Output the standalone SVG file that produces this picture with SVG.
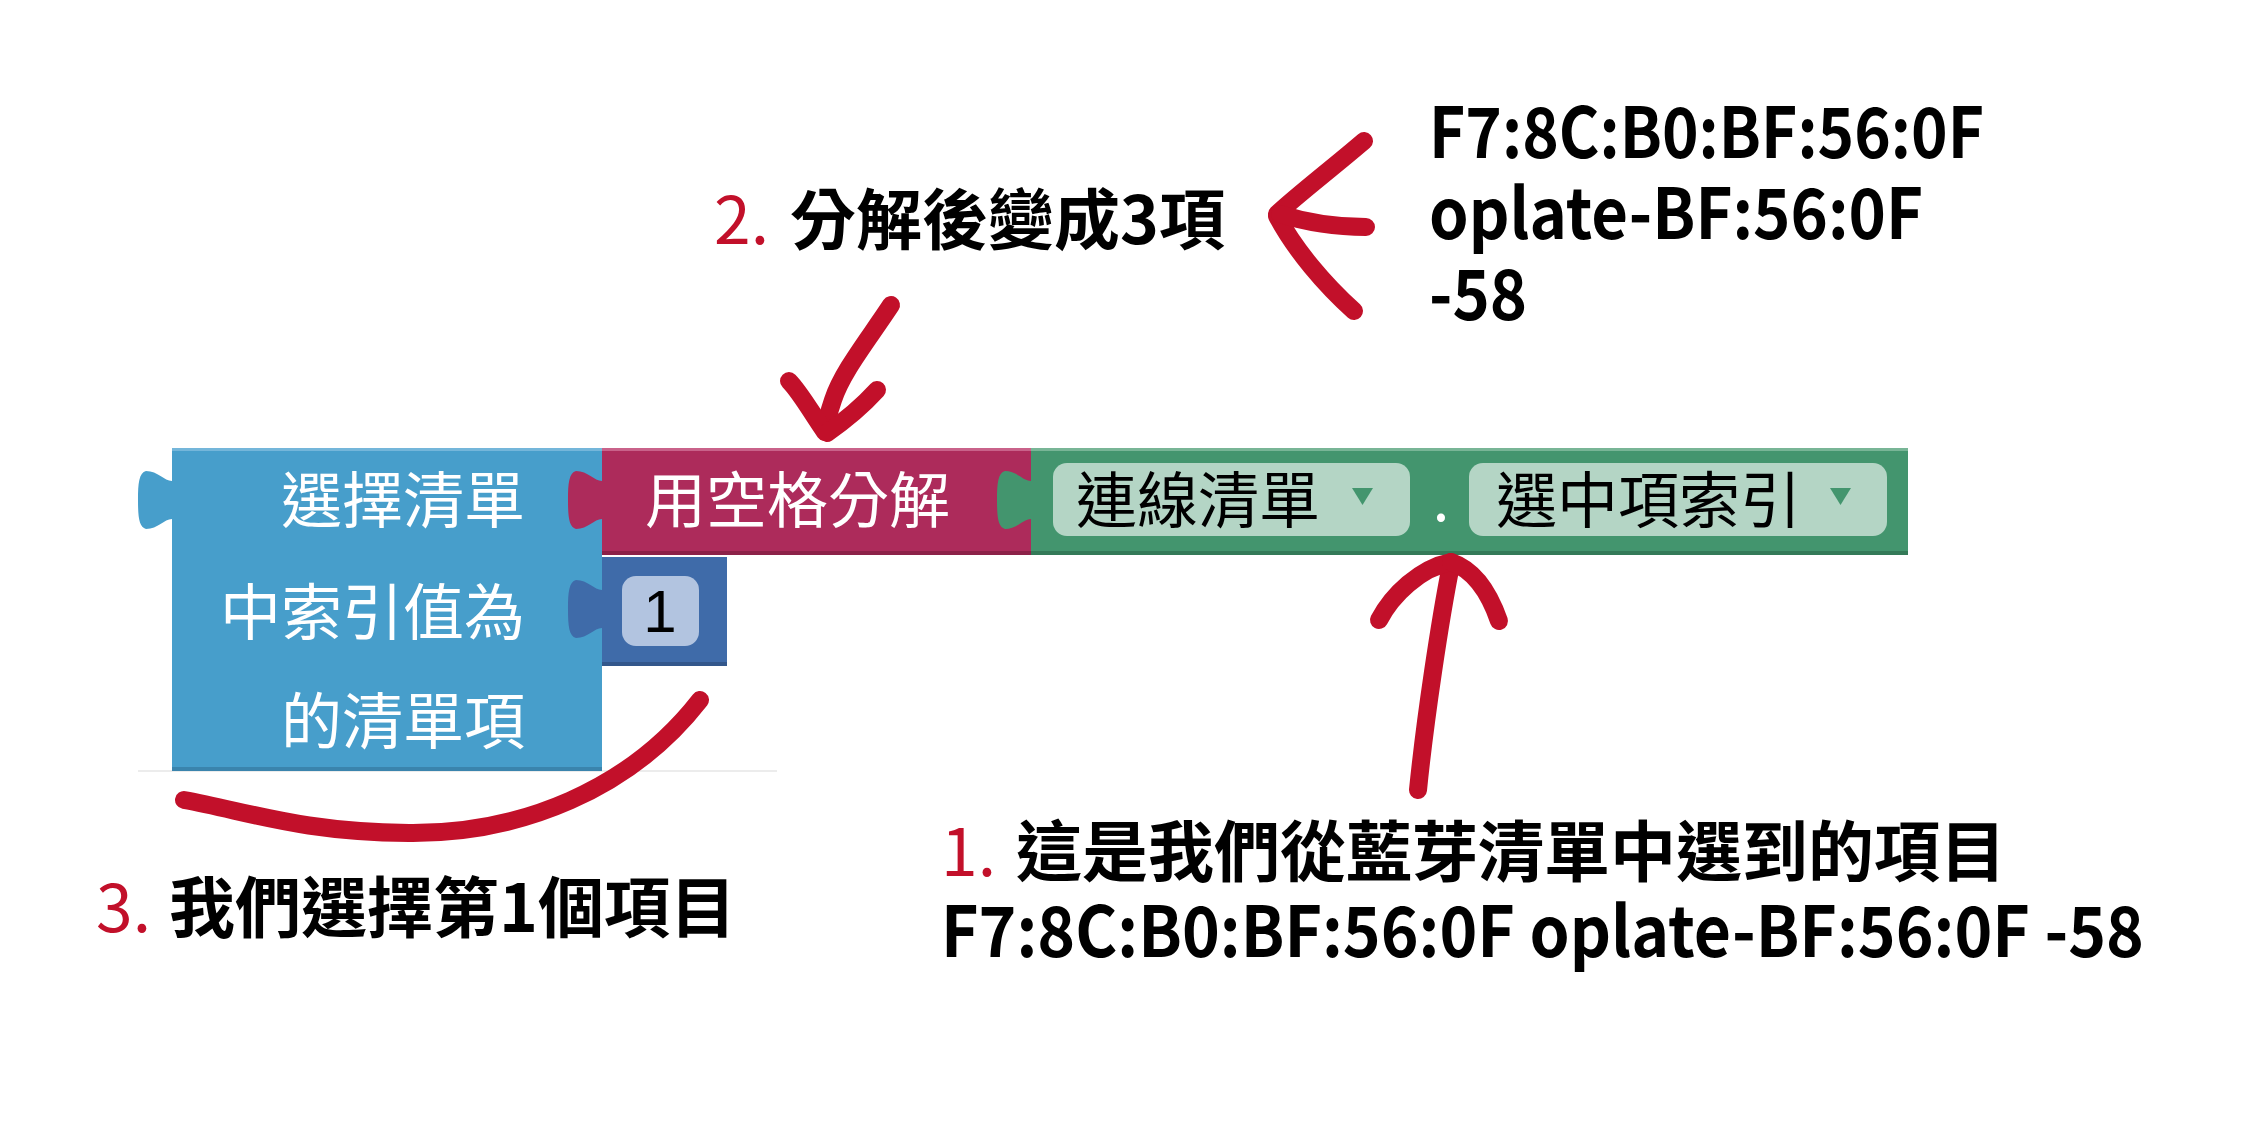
<svg xmlns="http://www.w3.org/2000/svg" width="2244" height="1122" viewBox="0 0 2244 1122">
<style>
.blk{font-family:"Noto Sans CJK TC","Noto Sans CJK SC",sans-serif;font-size:61px;fill:#ffffff}
.fld{font-family:"Noto Sans CJK TC","Noto Sans CJK SC",sans-serif;font-size:61px;fill:#000000}
.ann{font-family:"Noto Sans CJK TC","Noto Sans CJK SC",sans-serif;font-size:66px;font-weight:700;fill:#000000}
.lat{font-family:"Noto Sans CJK TC","Noto Sans CJK SC",sans-serif;font-size:70px;font-weight:700;fill:#000000}
.idx{fill:#c2102a;font-weight:400}
.red{fill:none;stroke:#c2102a;stroke-width:18;stroke-linecap:round;stroke-linejoin:round}
</style>
<defs>
<path id="tab" d="M0,10 C-8,10 -14,0 -26,0 C-33,2 -34,12 -34,29 C-34,46 -33,56 -26,58 C-14,58 -8,48 0,48 Z"/>
</defs>
<rect width="2244" height="1122" fill="#ffffff"/>
<line x1="138" y1="771" x2="777" y2="771" stroke="#ececec" stroke-width="2"/>

<g id="block-select-list-item">
<rect x="172" y="448" width="430" height="323" fill="#479ecb"/>
<rect x="172" y="448" width="430" height="3" fill="#74b6da"/>
<rect x="172" y="767" width="430" height="4" fill="#3a84ad"/>
<use href="#tab" x="172" y="471" fill="#479ecb"/>
<text class="blk" x="525" y="523" text-anchor="end">選擇清單</text>
<text class="blk" x="525" y="635" text-anchor="end">中索引值為</text>
<text class="blk" x="525" y="744" text-anchor="end">的清單項</text>
</g>

<g id="block-split">
<rect x="602" y="448" width="429" height="107" fill="#ad2b5b"/>
<rect x="602" y="448" width="429" height="3" fill="#c9628a"/>
<rect x="602" y="551" width="429" height="4" fill="#8c2148"/>
<use href="#tab" x="602" y="471" fill="#ad2b5b"/>
<text class="blk" x="645" y="523">用空格分解</text>
</g>

<g id="block-number">
<rect x="602" y="557" width="125" height="109" fill="#3f6ba9"/>
<rect x="602" y="662" width="125" height="4" fill="#33578b"/>
<use href="#tab" x="602" y="580" fill="#3f6ba9"/>
<rect x="622" y="576" width="77" height="70" rx="14" fill="#b2c4e0"/>
<text x="660" y="632" text-anchor="middle" font-family="Liberation Sans, sans-serif" font-size="60" fill="#000">1</text>
</g>

<g id="block-listpicker">
<rect x="1031" y="448" width="877" height="107" fill="#43956e"/>
<rect x="1031" y="448" width="877" height="3" fill="#78b596"/>
<rect x="1031" y="551" width="877" height="4" fill="#347a58"/>
<use href="#tab" x="1031" y="471" fill="#43956e"/>
<rect x="1053" y="463" width="357" height="73" rx="14" fill="#b4d5c5"/>
<text class="fld" x="1076" y="523">連線清單</text>
<polygon points="1352,488 1373,488 1362.5,505" fill="#43956e"/>
<text class="blk" x="1441" y="521" text-anchor="middle">.</text>
<rect x="1469" y="463" width="418" height="73" rx="14" fill="#b4d5c5"/>
<text class="fld" x="1496" y="523">選中項索引</text>
<polygon points="1830,488 1851,488 1840.5,505" fill="#43956e"/>
</g>

<g id="label-2">
<text class="ann" x="714" y="244"><tspan class="idx">2.</tspan><tspan x="790">分解後變成3項</tspan></text>
</g>
<g id="label-mac">
<text class="lat" x="1429" y="158" textLength="555" lengthAdjust="spacingAndGlyphs">F7:8C:B0:BF:56:0F</text>
<text class="lat" x="1429" y="239" textLength="494" lengthAdjust="spacingAndGlyphs">oplate-BF:56:0F</text>
<text class="lat" x="1429" y="320" textLength="98" lengthAdjust="spacingAndGlyphs">-58</text>
</g>
<g id="label-1">
<text class="ann" x="941" y="876"><tspan class="idx">1.</tspan><tspan x="1016">這是我們從藍芽清單中選到的項目</tspan></text>
<text class="lat" x="941" y="957" textLength="1203" lengthAdjust="spacingAndGlyphs">F7:8C:B0:BF:56:0F oplate-BF:56:0F -58</text>
</g>
<g id="label-3">
<text class="ann" x="96" y="932"><tspan class="idx">3.</tspan><tspan x="169">我們選擇第1個項目</tspan></text>
</g>

<g id="connectors">
<path class="red" d="M891,305 C868,340 842,372 833,400 C829,412 826,422 825,430"/>
<path class="red" d="M789,381 C800,392 813,415 825,432"/>
<path class="red" d="M877,390 C866,402 846,420 827,433"/>
<path class="red" d="M1364,141 C1330,170 1296,196 1277,214"/>
<path class="red" d="M1277,216 C1295,250 1325,285 1354,311"/>
<path class="red" d="M1280,214 C1305,222 1335,227 1366,227"/>
<path class="red" d="M1418,790 C1425,720 1440,620 1451,565"/>
<path class="red" d="M1379,620 C1392,595 1420,568 1451,562"/>
<path class="red" d="M1451,562 C1475,570 1490,595 1499,621"/>
<path class="red" stroke-width="20" d="M184,800 C250,812 300,832 409,833 C520,834 630,790 700,700"/>
</g>
</svg>
